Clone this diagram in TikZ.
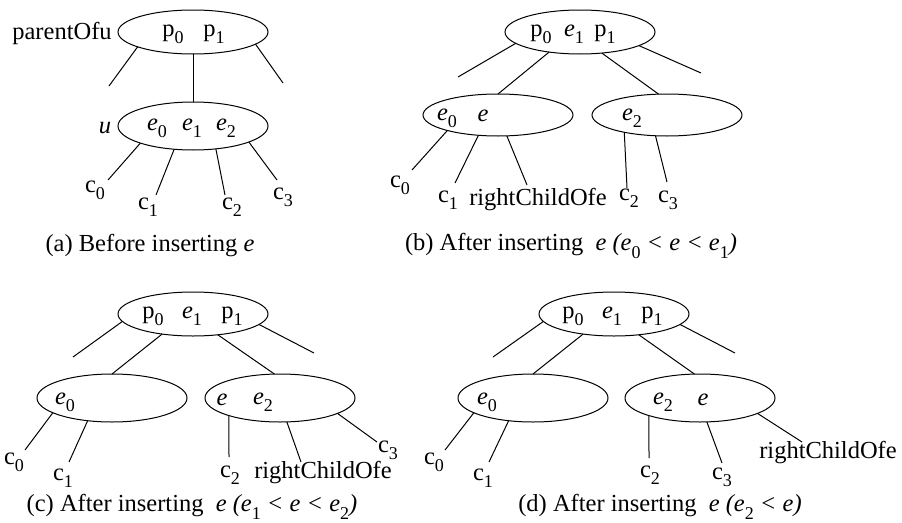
\documentclass[tikz,border=0pt]{standalone}
\usepackage{fontspec}
\setmainfont{Liberation Serif}
\usetikzlibrary{shapes.geometric}
\newcommand\sbx[1]{\raisebox{-0.3em}{\fontsize{18}{18}\selectfont\upshape #1}}
\newcommand\ee{\textit{e}}
\begin{document}
\begin{tikzpicture}[x=1pt,y=-1pt,
  every node/.style={font=\fontsize{24.5}{27}\selectfont, inner sep=0pt},
  oval/.style={draw, ellipse, line width=1pt, minimum width=150pt, minimum height=44pt, outer sep=0pt},
  kid/.style={oval, minimum height=48pt},
  edge/.style={line width=1pt}]
\useasboundingbox (0,0) rectangle (902,522);

% ---------- (a)
\node[oval] (A1) at (193,32) {};
\node (pa) at (62,33) {parentOfu};
\node (ap0) at (173,34) {p\sbx{0}};
\node (ap1) at (214,34) {p\sbx{1}};
\coordinate (a1) at (109,86);
\coordinate (a2) at (283,83);
\draw[edge] (A1.-165) -- (a1);
\draw[edge] (A1.-11) -- (a2);
\node[kid] (U) at (193,126) {};
\draw[edge] (A1.south) -- (U.north);
\node (lu) at (105,128) {\textit{u}};
\node (ue0) at (157,128) {\ee\sbx{0}};
\node (ue1) at (192,128) {\ee\sbx{1}};
\node (ue2) at (226,128) {\ee\sbx{2}};
\coordinate (ua0) at (108,180);
\coordinate (ua1) at (156,195);
\coordinate (ua2) at (225,195);
\coordinate (ua3) at (277,180);
\draw[edge] (U.-162) -- (ua0);
\draw[edge] (U.-129) -- (ua1);
\draw[edge] (U.-45) -- (ua2);
\draw[edge] (U.-16) -- (ua3);
\node (ac0) at (95,190) {c\sbx{0}};
\node (ac1) at (148,207) {c\sbx{1}};
\node (ac2) at (232,207) {c\sbx{2}};
\node (ac3) at (283,197) {c\sbx{3}};
\node (capa) at (150,246) {(a) Before inserting \textit{e}};

% ---------- (b)
\node[oval] (B1) at (580,32) {};
\node (bp0) at (541,34) {p\sbx{0}};
\node (be1) at (574,34) {\ee\sbx{1}};
\node (bp1) at (605,34) {p\sbx{1}};
\node[oval, minimum height=42pt] (B2) at (498,115) {};
\node[oval, minimum height=42pt] (B3) at (667,115) {};
\coordinate (b1) at (458,77);
\coordinate (b2) at (701,73);
\draw[edge] (B1.-170) -- (b1);
\draw[edge] (B1.-147) -- (B2.north);
\draw[edge] (B1.-44) -- (B3.112);
\draw[edge] (B1.-13) -- (b2);
\node (be0) at (447,118) {\ee\sbx{0}};
\node (be) at (483,116) {\ee};
\node (be2) at (632,118) {\ee\sbx{2}};
\coordinate (bl0) at (412,170);
\coordinate (bl1) at (455,183);
\coordinate (bl2) at (527,185);
\coordinate (br0) at (627,188);
\coordinate (br1) at (667,182);
\draw[edge] (B2.-163) -- (bl0);
\draw[edge] (B2.-134) -- (bl1);
\draw[edge] (B2.-67) -- (bl2);
\draw[edge] (B3.-158) -- (br0);
\draw[edge] (B3.-119) -- (br1);
\node (bc0) at (400,185) {c\sbx{0}};
\node (bc1) at (448,200) {c\sbx{1}};
\node (brc) at (538,200) {rightChildOfe};
\node (bc2) at (629,198) {c\sbx{2}};
\node (bc3) at (668,200) {c\sbx{3}};
\node (capb) at (571,246) {(b) After inserting \ \textit{e (e\sbx{0} < e < e\sbx{1})}};

% ---------- (c)
\node[oval] (C1) at (193,314) {};
\node (cp0) at (153,316) {p\sbx{0}};
\node (ce1) at (192,316) {\ee\sbx{1}};
\node (cp1) at (232,316) {p\sbx{1}};
\node[kid] (C2) at (112,398) {};
\node[kid] (C3) at (280,398) {};
\coordinate (c1) at (73,357);
\coordinate (c2) at (314,353);
\draw[edge] (C1.-174) -- (c1);
\draw[edge] (C1.-147) -- (C2.north);
\draw[edge] (C1.-40) -- (C3.103);
\draw[edge] (C1.-9.5) -- (c2);
\node (ce0) at (65,402) {\ee\sbx{0}};
\node (ce) at (222,400) {\ee};
\node (ce2) at (263,402) {\ee\sbx{2}};
\coordinate (cl0) at (25,450);
\coordinate (cl1) at (69,462);
\coordinate (cr0) at (229,457);
\coordinate (cr1) at (301,462);
\coordinate (cr2) at (377,442);
\draw[edge] (C2.-166) -- (cl0);
\draw[edge] (C2.-137) -- (cl1);
\draw[edge] (C3.-161) -- (cr0);
\draw[edge] (C3.-74) -- (cr1);
\draw[edge] (C3.-15) -- (cr2);
\node (cc0) at (14,462) {c\sbx{0}};
\node (cc1) at (63,478) {c\sbx{1}};
\node (cc2) at (230,475) {c\sbx{2}};
\node (crc) at (323,473) {rightChildOfe};
\node (cc3) at (388,450) {c\sbx{3}};
\node (capc) at (192,507) {(c) After inserting \ \textit{e (e\sbx{1} < e < e\sbx{2})}};

% ---------- (d)
\node[oval] (D1) at (614,314) {};
\node (dp0) at (573,316) {p\sbx{0}};
\node (de1) at (612,316) {\ee\sbx{1}};
\node (dp1) at (652,316) {p\sbx{1}};
\node[kid] (D2) at (533,398) {};
\node[kid] (D3) at (700,398) {};
\coordinate (d1) at (493,357);
\coordinate (d2) at (735,353);
\draw[edge] (D1.-174) -- (d1);
\draw[edge] (D1.-147) -- (D2.north);
\draw[edge] (D1.-40) -- (D3.103);
\draw[edge] (D1.-9.5) -- (d2);
\node (de0) at (487,402) {\ee\sbx{0}};
\node (de2) at (663,402) {\ee\sbx{2}};
\node (de) at (703,400) {\ee};
\coordinate (dl0) at (445,450);
\coordinate (dl1) at (489,462);
\coordinate (dr0) at (649,458);
\coordinate (dr1) at (722,463);
\coordinate (dr2) at (802,442);
\draw[edge] (D2.-166) -- (dl0);
\draw[edge] (D2.-137) -- (dl1);
\draw[edge] (D3.-161) -- (dr0);
\draw[edge] (D3.-74) -- (dr1);
\draw[edge] (D3.-15) -- (dr2);
\node (dc0) at (434,462) {c\sbx{0}};
\node (dc1) at (483,478) {c\sbx{1}};
\node (dc2) at (650,475) {c\sbx{2}};
\node (dc3) at (722,477) {c\sbx{3}};
\node (drc) at (828,453) {rightChildOfe};
\node (capd) at (660,507) {(d) After inserting \ \textit{e (e\sbx{2} < e)}};
\end{tikzpicture}
\end{document}
